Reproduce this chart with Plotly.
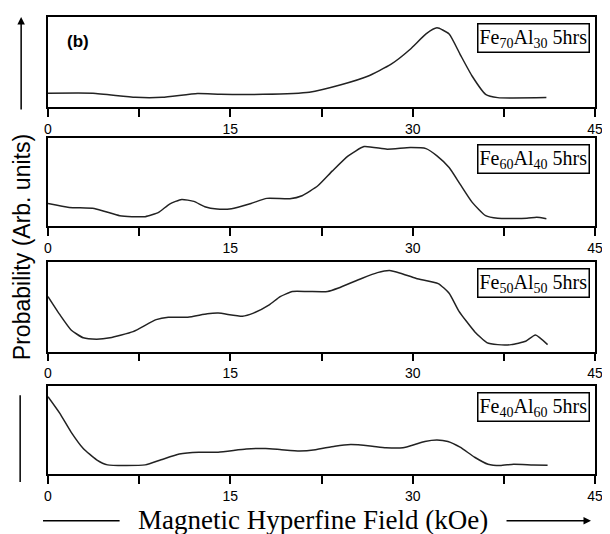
import plotly.graph_objects as go

# ---- data (probability in arbitrary units, 0..1 of panel height)
field_70 = [0, 3.7, 7.2, 9.4, 12.3, 14.2, 17.7, 21.5, 24.1, 26.3, 28.2, 29.8, 31.1, 32.0, 33.0, 33.9, 34.9, 36.0, 37.0, 41.0]
prob_70 = [0.157, 0.157, 0.112, 0.112, 0.154, 0.146, 0.146, 0.169, 0.251, 0.345, 0.476, 0.644, 0.813, 0.880, 0.813, 0.588, 0.345, 0.146, 0.109, 0.109]

field_60 = [0, 1.75, 3.8, 5.9, 6.9, 8.0, 9.1, 10.0, 11.0, 12.0, 12.9, 13.9, 15.1, 16.7, 18.0, 19.9, 20.9, 22.2, 23.4, 24.7, 26.0, 27.9, 29.8, 31.1, 32.0, 33.0, 33.9, 34.9, 36.0, 37.0, 39.4, 40.2, 41.0]
prob_60 = [0.258, 0.213, 0.202, 0.120, 0.109, 0.109, 0.157, 0.251, 0.303, 0.281, 0.221, 0.195, 0.199, 0.258, 0.315, 0.311, 0.345, 0.457, 0.625, 0.794, 0.899, 0.869, 0.888, 0.876, 0.794, 0.663, 0.476, 0.270, 0.120, 0.090, 0.090, 0.101, 0.086]

field_50 = [0, 0.96, 1.9, 2.9, 4.0, 5.1, 7.0, 8.9, 9.9, 11.5, 13.1, 14.0, 16.0, 16.9, 18.2, 19.1, 20.1, 21.4, 23.0, 23.9, 25.8, 27.1, 28.1, 29.0, 30.3, 32.1, 33.0, 33.8, 35.1, 36.1, 37.0, 38.1, 39.3, 40.1, 41.1]
prob_50 = [0.613, 0.414, 0.241, 0.153, 0.138, 0.153, 0.222, 0.356, 0.383, 0.383, 0.421, 0.429, 0.395, 0.429, 0.521, 0.613, 0.670, 0.670, 0.670, 0.709, 0.816, 0.881, 0.904, 0.874, 0.816, 0.759, 0.651, 0.452, 0.222, 0.100, 0.077, 0.077, 0.115, 0.184, 0.077]

field_40 = [0, 0.96, 1.9, 2.9, 4.0, 4.9, 8.0, 9.3, 10.8, 12.4, 14.0, 16.3, 17.9, 19.2, 20.7, 22.0, 23.6, 24.9, 26.5, 27.8, 29.2, 30.3, 31.0, 32.0, 32.9, 33.9, 35.1, 36.2, 37.2, 38.3, 39.9, 41.1]
prob_40 = [0.881, 0.694, 0.478, 0.291, 0.162, 0.104, 0.104, 0.162, 0.227, 0.248, 0.248, 0.284, 0.291, 0.277, 0.263, 0.277, 0.317, 0.335, 0.320, 0.299, 0.299, 0.342, 0.371, 0.388, 0.371, 0.306, 0.191, 0.112, 0.097, 0.112, 0.104, 0.101]

labels = ["Fe<sub>70</sub>Al<sub>30</sub> 5hrs", "Fe<sub>60</sub>Al<sub>40</sub> 5hrs",
          "Fe<sub>50</sub>Al<sub>50</sub> 5hrs", "Fe<sub>40</sub>Al<sub>60</sub> 5hrs"]
tick_vals = [0, 15, 30, 45]
tick_text = ["0", "15", "30", "45"]
minor_tick_vals = [7.5, 22.5, 37.5]

series = [(field_70, prob_70), (field_60, prob_60), (field_50, prob_50), (field_40, prob_40)]
domains = [[0.802, 1.0], [0.542, 0.736], [0.268, 0.464], [0.0, 0.192]]

# page body has an 8px margin, so the figure is drawn 8px smaller and offset
OFF = 8
W, H = 610 - OFF, 534 - OFF
ML, MR, MT, MB = 48 - OFF, 12, 15 - OFF, 60
PW, PH = W - ML - MR, H - MT - MB

def px(x):  # x in screenshot pixels -> paper fraction
    return (x - OFF - ML) / PW

def py(y):  # y in screenshot pixels -> paper fraction
    return (H - MB - (y - OFF)) / PH

fig = go.Figure()
layout = dict(width=W, height=H, margin=dict(l=ML, r=MR, t=MT, b=MB),
              paper_bgcolor="white", plot_bgcolor="white", showlegend=False)
annotations = []
for i, ((xs, ys), dom, lab) in enumerate(zip(series, domains, labels)):
    n = "" if i == 0 else str(i + 1)
    fig.add_trace(go.Scatter(x=xs, y=ys, mode="lines", xaxis="x" + n, yaxis="y" + n,
                             line=dict(color="#222222", width=1.5, shape="spline", smoothing=0.5)))
    layout["xaxis" + n] = dict(domain=[0, 1], anchor="y" + n, range=[0, 45],
                               tickvals=tick_vals, ticktext=tick_text, ticks="outside",
                               ticklen=8, tickwidth=1.5, tickcolor="black",
                               minor=dict(tickvals=minor_tick_vals, ticks="outside", ticklen=8,
                                          tickwidth=1.5, tickcolor="black", showgrid=False),
                               showline=True, linecolor="black", linewidth=1.5, mirror=True,
                               showgrid=False, zeroline=False,
                               tickfont=dict(family="Liberation Sans, Arial", size=14, color="black"))
    layout["yaxis" + n] = dict(domain=dom, anchor="x" + n, range=[0, 1],
                               showticklabels=False, ticks="", showgrid=False, zeroline=False,
                               showline=True, linecolor="black", linewidth=1.5, mirror=True)
    annotations.append(dict(xref="x%s domain" % n, yref="y%s domain" % n, x=0.99, y=1,
                            yshift=-6, xanchor="right", yanchor="top", text=lab, showarrow=False,
                            font=dict(family="Liberation Serif, Times New Roman", size=20, color="black"),
                            bordercolor="black", borderwidth=1.5, borderpad=1, bgcolor="white"))

annotations.append(dict(xref="x domain", yref="y domain", x=(65 - 48) / 550, y=0.725, xanchor="left",
                        yanchor="middle", text="<b>(b)</b>", showarrow=False,
                        font=dict(family="Liberation Sans, Arial", size=17, color="black")))
annotations.append(dict(xref="paper", yref="paper", x=px(22), y=py(246), xanchor="center",
                        yanchor="middle", text="Probability (Arb. units)", textangle=-90,
                        showarrow=False, font=dict(family="Liberation Sans, Arial", size=23, color="black")))
annotations.append(dict(xref="paper", yref="paper", x=px(314), y=py(520), xanchor="center",
                        yanchor="middle", text="Magnetic Hyperfine Field (kOe)", showarrow=False,
                        font=dict(family="Liberation Serif, Times New Roman", size=27, color="black")))
# up arrow on y title
annotations.append(dict(xref="paper", yref="paper", x=px(21), y=py(15), ax=0, ay=94,
                        text="", showarrow=True, arrowhead=2, arrowsize=1, arrowwidth=1.5,
                        arrowcolor="black"))
# right arrow on x title
annotations.append(dict(xref="paper", yref="paper", x=px(594), y=py(521), ax=-86, ay=0,
                        text="", showarrow=True, arrowhead=2, arrowsize=1, arrowwidth=1.5,
                        arrowcolor="black"))
layout["annotations"] = annotations
layout["shapes"] = [
    dict(type="line", xref="paper", yref="paper", x0=px(20), x1=px(20), y0=py(395), y1=py(482),
         line=dict(color="black", width=1.5)),
    dict(type="line", xref="paper", yref="paper", x0=px(43), x1=px(120), y0=py(521), y1=py(521),
         line=dict(color="black", width=1.5)),
]
fig.update_layout(**layout)
fig.write_html("out.html")
